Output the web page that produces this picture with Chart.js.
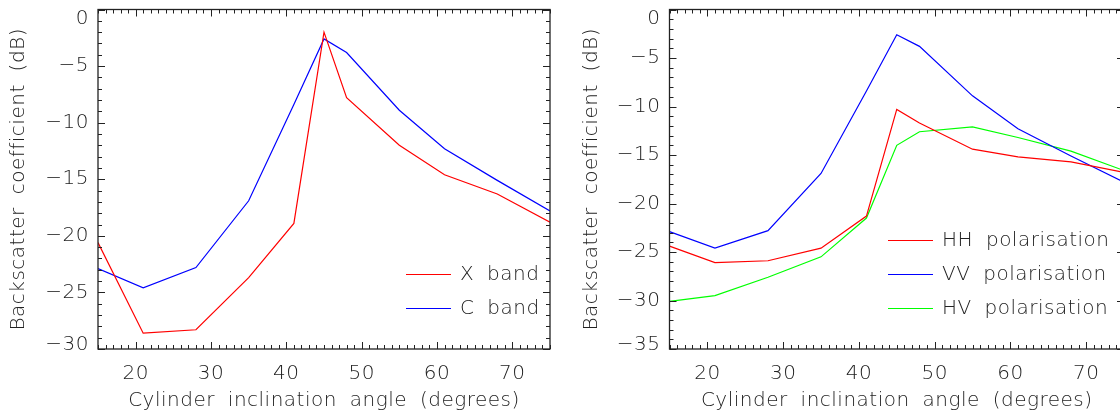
<!DOCTYPE html>
<html>
<head>
<meta charset="utf-8">
<script src="https://cdn.jsdelivr.net/npm/chart.js@4.4.1/dist/chart.umd.min.js"></script>
<style>
    html, body {
        margin: 0;
        padding: 0;
        width: 1120px;
        height: 416px;
        overflow: hidden;
        background: #fff;
    }
    canvas {
        position: absolute;
        top: 0;
    }
    #bandChart { left: 0; }
    #polChart { left: 560px; }
</style>
</head>
<body>
<canvas id="bandChart" width="560" height="416"></canvas>
<canvas id="polChart" width="574" height="416"></canvas>
<script>
// inclination angles (degrees) shared by every curve
const angles = [15, 21, 28, 35, 41, 45, 48, 55, 61, 68, 75];

// left panel: frequency bands (dB)
const xBand = [-20.6, -28.6, -28.3, -23.7, -18.9, -2.0, -7.8, -12.0, -14.6, -16.3, -18.8];
const cBand = [-22.9, -24.6, -22.8, -16.9, -8.4, -2.6, -3.8, -8.9, -12.3, -15.1, -17.8];

// right panel: polarisations (dB)
const hhPol = [-24.4, -26.1, -25.9, -24.6, -21.3, -10.3, -11.7, -14.4, -15.2, -15.7, -16.8];
const vvPol = [-22.9, -24.6, -22.8, -16.9, -8.4, -2.6, -3.8, -8.9, -12.3, -15.1, -17.8];
const hvPol = [-30.1, -29.5, -27.6, -25.5, -21.5, -14.0, -12.6, -12.1, -13.2, -14.6, -16.6];

const angleTicks = [20, 30, 40, 50, 60, 70];
const bandTicks = [0, -5, -10, -15, -20, -25, -30];
const polTicks = [0, -5, -10, -15, -20, -25, -30, -35];

const FONT = "'DejaVu Sans', sans-serif";
const INK = "#222";

function setText(ctx) {
    ctx.font = "300 20px " + FONT;
    ctx.letterSpacing = "0.5px";
    ctx.wordSpacing = "6px";
    ctx.fillStyle = INK;
}

function fmt(v) {
    return v < 0 ? "\u2212" + Math.abs(v) : String(v);
}

// box, inward ticks on all four sides, tick labels and the line legend
const idlFrame = {
    id: "idlFrame",
    beforeDraw(chart) {
        setText(chart.ctx);
    },
    afterDraw(chart, args, opts) {
        const ctx = chart.ctx;
        const a = chart.chartArea;
        const xs = chart.scales.x;
        const ys = chart.scales.y;

        ctx.save();
        ctx.strokeStyle = INK;
        ctx.lineWidth = 1.3;
        ctx.strokeRect(a.left, a.top, a.right - a.left, a.bottom - a.top);

        ctx.lineWidth = 1;
        ctx.beginPath();
        for (let v = xs.min; v <= xs.max; v++) {
            const px = Math.round(xs.getPixelForValue(v)) + 0.5;
            const len = v % 10 === 0 ? 7 : 4;
            ctx.moveTo(px, a.bottom);
            ctx.lineTo(px, a.bottom - len);
            ctx.moveTo(px, a.top);
            ctx.lineTo(px, a.top + len);
        }
        for (let v = ys.min; v <= ys.max; v++) {
            const py = Math.round(ys.getPixelForValue(v)) + 0.5;
            const len = v % 5 === 0 ? 7 : 4;
            ctx.moveTo(a.left, py);
            ctx.lineTo(a.left + len, py);
            ctx.moveTo(a.right, py);
            ctx.lineTo(a.right - len, py);
        }
        ctx.stroke();

        setText(ctx);
        ctx.textAlign = "center";
        ctx.textBaseline = "middle";
        xs.ticks.forEach(t => {
            ctx.fillText(fmt(t.value), xs.getPixelForValue(t.value), a.bottom + 25);
        });

        ctx.textAlign = "right";
        ys.ticks.forEach(t => {
            let py = ys.getPixelForValue(t.value);
            py = Math.min(Math.max(py, a.top + 9), a.bottom - 4);
            ctx.fillText(fmt(t.value), a.left - 9, py);
        });

        // legend
        const n = chart.data.datasets.length;
        chart.data.datasets.forEach((ds, i) => {
            const y = Math.round(a.bottom - 41 - 34 * (n - 1 - i)) + 0.5;
            const x0 = a.left + opts.legendX;
            ctx.strokeStyle = ds.borderColor;
            ctx.lineWidth = 1.2;
            ctx.beginPath();
            ctx.moveTo(x0, y);
            ctx.lineTo(x0 + 45, y);
            ctx.stroke();
            ctx.textAlign = "left";
            ctx.fillText(ds.label, x0 + 54, y);
        });
        ctx.restore();
    }
};

function makeChart(id, series, yTicks, yMin, axisWidth, titlePad, legendX) {
    const titleFont = { family: FONT, size: 20, weight: 300, lineHeight: 1.2 };

    return new Chart(document.getElementById(id), {
        type: "line",
        data: {
            datasets: series.map(s => ({
                label: s.label,
                data: angles.map((a, i) => ({ x: a, y: s.values[i] })),
                borderColor: s.color,
                borderWidth: 1.2,
                pointRadius: 0,
                tension: 0,
                fill: false
            }))
        },
        options: {
            responsive: false,
            animation: false,
            devicePixelRatio: 1,
            layout: {
                padding: { top: 9.5, right: 10, bottom: 0, left: 0 }
            },
            plugins: {
                legend: { display: false },
                tooltip: { enabled: false },
                idlFrame: { legendX: legendX }
            },
            scales: {
                x: {
                    type: "linear",
                    min: 15,
                    max: 75,
                    grid: { display: false, drawTicks: false },
                    border: { display: false },
                    ticks: { display: false },
                    afterBuildTicks: s => {
                        s.ticks = angleTicks.map(v => ({ value: v }));
                    },
                    afterFit: s => {
                        s.height = 67;
                    },
                    title: {
                        display: true,
                        text: "Cylinder inclination angle (degrees)",
                        color: INK,
                        font: titleFont,
                        padding: { top: 0, bottom: 3 }
                    }
                },
                y: {
                    min: yMin,
                    max: 0,
                    grid: { display: false, drawTicks: false },
                    border: { display: false },
                    ticks: { display: false },
                    afterBuildTicks: s => {
                        s.ticks = yTicks.map(v => ({ value: v }));
                    },
                    afterFit: s => {
                        s.width = axisWidth;
                    },
                    title: {
                        display: true,
                        text: "Backscatter coefficient (dB)",
                        color: INK,
                        font: titleFont,
                        padding: { top: titlePad, bottom: 0 }
                    }
                }
            }
        },
        plugins: [idlFrame]
    });
}

makeChart("bandChart", [
    { label: "X band", values: xBand, color: "#ff0000" },
    { label: "C band", values: cBand, color: "#0000ff" }
], bandTicks, -30, 98, 7, 308);

makeChart("polChart", [
    { label: "HH polarisation", values: hhPol, color: "#ff0000" },
    { label: "VV polarisation", values: vvPol, color: "#0000ff" },
    { label: "HV polarisation", values: hvPol, color: "#00ff00" }
], polTicks, -35, 109.5, 20, 218.5);
</script>
</body>
</html>
